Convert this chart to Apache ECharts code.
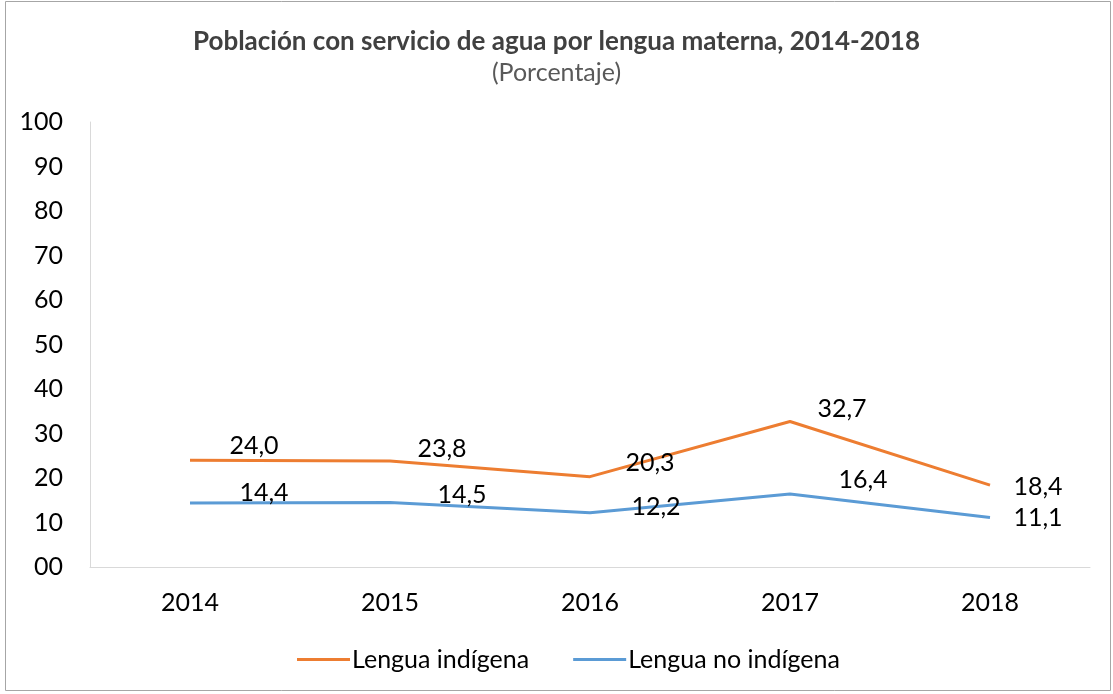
<!DOCTYPE html>
<html>
<head>
<meta charset="utf-8">
<script src="https://cdn.jsdelivr.net/npm/echarts@6/dist/echarts.min.js"></script>
<style>
  body { margin: 0; background: #fff; }
  #chart { width: 1113px; height: 694px; }
</style>
</head>
<body>
<div id="chart"></div>
<script>
// datos
const years = ['2014', '2015', '2016', '2017', '2018'];
const indigena = [24.0, 23.8, 20.3, 32.7, 18.4];
const noIndigena = [14.4, 14.5, 12.2, 16.4, 11.1];

// desplazamiento de las etiquetas respecto al punto (px)
const offsetsIndigena = [[64, -14], [52, -12], [60, -14], [52, -13], [48, 2]];
const offsetsNoIndigena = [[74, -10], [72, -8], [66, -6], [73, -14], [48, 0]];

const font = 'Lato, "Open Sans", sans-serif';

function withLabels(values, offsets) {
    return values.map((v, i) => ({
        value: v,
        label: { offset: offsets[i] }
    }));
}

function lineSeries(name, values, offsets, color) {
    return {
        name: name,
        type: 'line',
        data: withLabels(values, offsets),
        showSymbol: true,
        symbol: 'circle',
        symbolSize: 0.1,
        lineStyle: { width: 3, color: color },
        itemStyle: { color: color },
        label: {
            show: true,
            position: 'inside',
            fontFamily: font, fontSize: 25, color: '#000',
            formatter: p => p.value.toFixed(1).replace('.', ',')
        }
    };
}

const chart = echarts.init(document.getElementById('chart'));
chart.setOption({
    animation: false,
    textStyle: { fontFamily: font },
    title: {
        text: 'Población con servicio de agua por lengua materna, 2014-2018',
        subtext: '(Porcentaje)',
        left: 'center',
        top: 24,
        itemGap: 5,
        textStyle: { fontFamily: font, fontSize: 26, fontWeight: 'bold', color: '#404040' },
        subtextStyle: { fontFamily: font, fontSize: 25, color: '#595959' }
    },
    graphic: [{
        type: 'rect',
        shape: { x: 5.5, y: 1.5, width: 1105, height: 689 },
        style: { fill: 'none', stroke: '#a6a6a6', lineWidth: 1 },
        silent: true
    }],
    legend: {
        top: 642,
        left: 292,
        icon: 'rect',
        itemWidth: 53,
        itemHeight: 3,
        itemGap: 44,
        textStyle: { fontFamily: font, fontSize: 25, color: '#000', padding: [0, 0, 0, -3] },
        data: ['Lengua indígena', 'Lengua no indígena']
    },
    grid: { left: 90, right: 23, top: 122, bottom: 127, containLabel: false },
    xAxis: {
        type: 'category',
        data: years,
        axisLine: { lineStyle: { color: '#d9d9d9', width: 1 } },
        axisTick: { show: false },
        axisLabel: { fontFamily: font, fontSize: 25, color: '#000', margin: 23 }
    },
    yAxis: {
        type: 'value',
        min: 0,
        max: 100,
        interval: 10,
        axisLine: { show: true, lineStyle: { color: '#d9d9d9', width: 1 } },
        axisTick: { show: false },
        splitLine: { show: false },
        axisLabel: {
            fontFamily: font, fontSize: 25, color: '#000', margin: 27,
            formatter: v => v === 0 ? '00' : String(v)
        }
    },
    series: [
        lineSeries('Lengua indígena', indigena, offsetsIndigena, '#ED7D31'),
        lineSeries('Lengua no indígena', noIndigena, offsetsNoIndigena, '#5B9BD5')
    ]
});
</script>
</body>
</html>
